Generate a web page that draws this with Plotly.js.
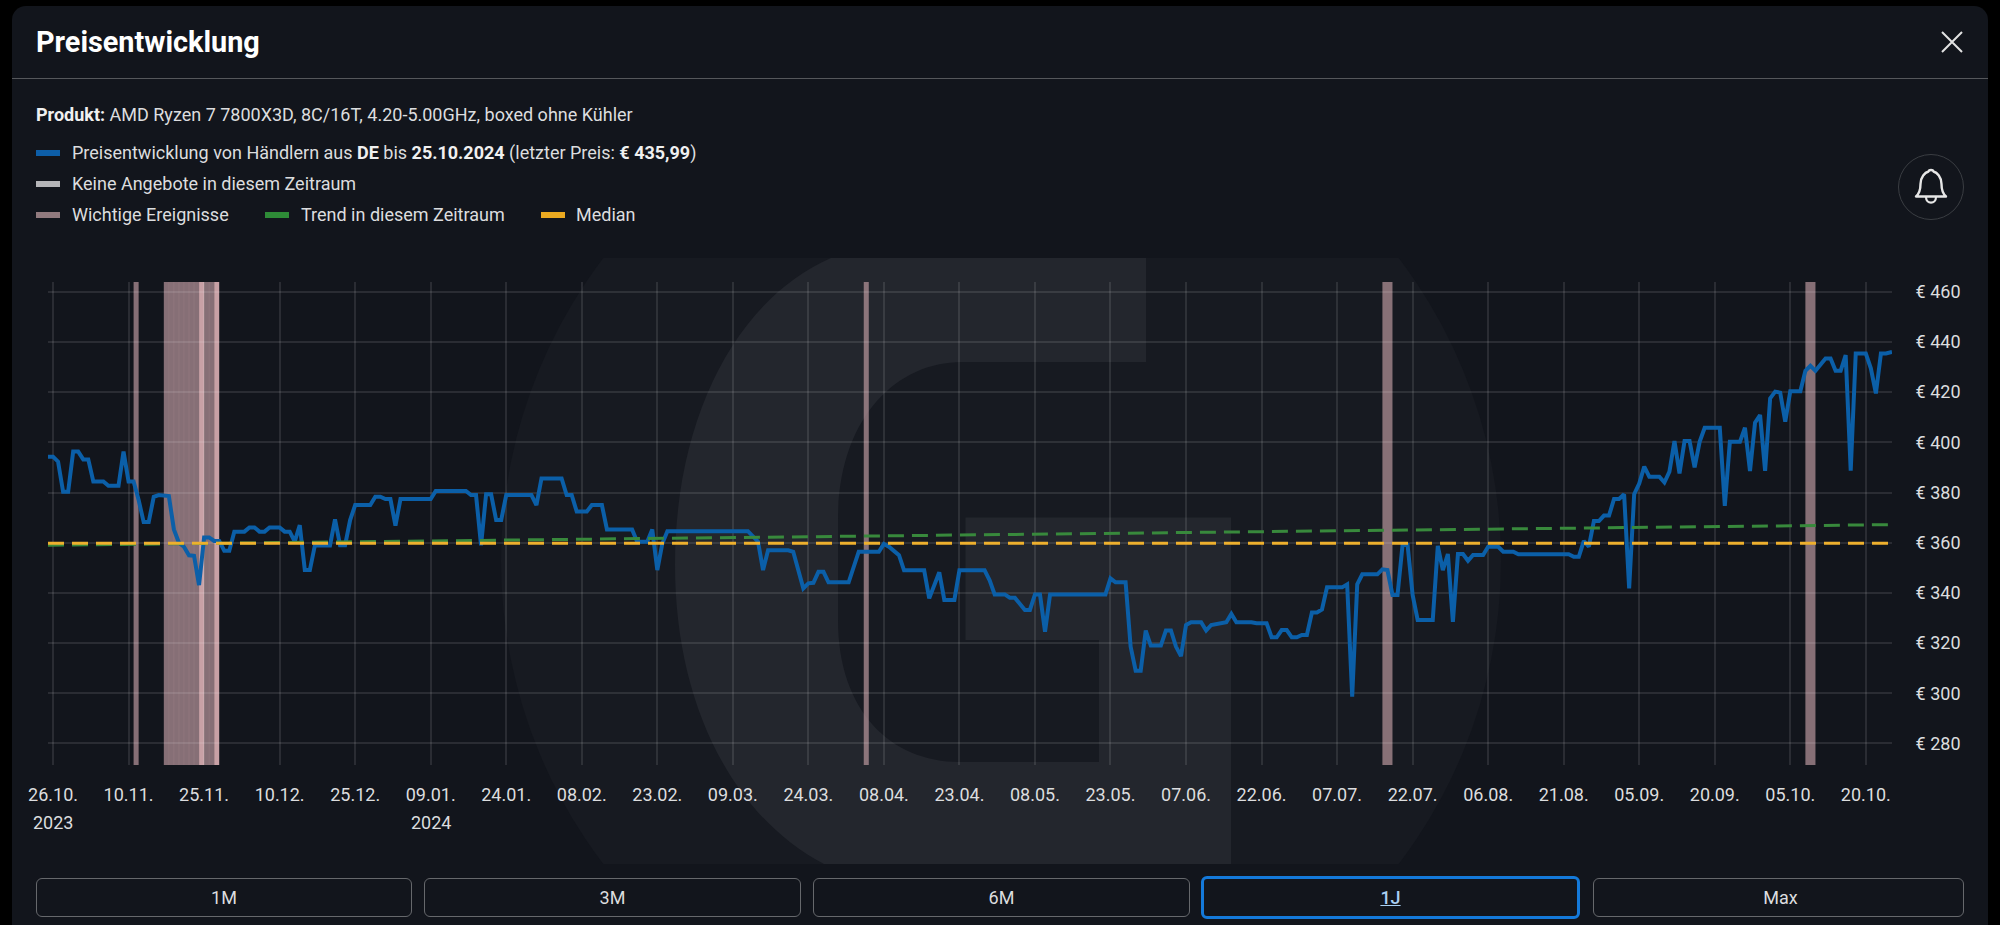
<!DOCTYPE html>
<html lang="de">
<head>
<meta charset="utf-8">
<title>Preisentwicklung</title>
<script src="https://cdn.plot.ly/plotly-3.0.1.min.js"></script>
<style>
html,body{margin:0;padding:0;width:2000px;height:925px;background:#000;overflow:hidden;font-family:Roboto,sans-serif;color:#dcdddf}
#panel{position:absolute;left:12px;top:6px;width:1976px;height:919px;background:#12151c;border-radius:14px 14px 0 0}
#wm{position:absolute;left:0;top:0}
#chart{position:absolute;left:0;top:0;width:2000px;height:925px}
.t{position:absolute;white-space:nowrap;font-size:18px;line-height:24px}
.t b{font-weight:700;color:#f0f0f0}
.sw{position:absolute;width:24px;height:6px}
.divider{position:absolute;left:12px;top:78px;width:1976px;height:1px;background:#55575b}
.btn{position:absolute;top:878px;height:37px;border:1px solid #66686c;border-radius:6px;text-align:center;line-height:37px;font-size:18px;color:#dcdddf}
.btn.on{top:876px;height:37px;border:3px solid #1479d9;color:#a9cff2;font-weight:500;text-decoration:underline}
</style>
</head>
<body>
<div id="panel"></div>
<svg id="wm" width="2000" height="925" viewBox="0 0 2000 925">
  <defs><clipPath id="wmc"><rect x="0" y="258" width="2000" height="606"/></clipPath></defs>
  <g clip-path="url(#wmc)">
    <circle cx="1001" cy="561" r="500" fill="#171a21"/>
    <path fill="#23262d" d="M831,258 L1146,258 L1146,362 L962,362 C895,362 838,420 838,520 L838,620 C838,710 890,762 960,762 L1099,762 L1099,640 L965.5,640 L965.5,517.6 L1231,517.6 L1231,864 L824,864 C730,815 675,700 675,565 C675,420 735,300 831,258 Z"/>
  </g>
</svg>
<div id="chart"></div>

<div class="t" style="left:36px;top:24px;font-size:28.8px;line-height:36px;font-weight:700;color:#fff">Preisentwicklung</div>
<svg style="position:absolute;left:1940px;top:30px" width="24" height="24"><path d="M2 2 L22 22 M22 2 L2 22" stroke="#e2e2e2" stroke-width="2" fill="none"/></svg>
<div class="divider"></div>
<div class="t" style="left:36px;top:103px"><b>Produkt:</b> AMD Ryzen 7 7800X3D, 8C/16T, 4.20-5.00GHz, boxed ohne Kühler</div>
<div class="sw" style="left:36px;top:150px;background:#0d5ea8"></div>
<div class="t" style="left:72px;top:141px">Preisentwicklung von Händlern aus <b>DE</b> bis <b>25.10.2024</b> (letzter Preis: <b>€ 435,99</b>)</div>
<div class="sw" style="left:36px;top:181px;background:#b5b5b8"></div>
<div class="t" style="left:72px;top:172px">Keine Angebote in diesem Zeitraum</div>
<div class="sw" style="left:36px;top:212px;background:#917a7e"></div>
<div class="t" style="left:72px;top:203px">Wichtige Ereignisse</div>
<div class="sw" style="left:265px;top:212px;background:#2e8b37"></div>
<div class="t" style="left:301px;top:203px">Trend in diesem Zeitraum</div>
<div class="sw" style="left:541px;top:212px;background:#eaa920"></div>
<div class="t" style="left:576px;top:203px">Median</div>
<svg style="position:absolute;left:1897px;top:153px" width="68" height="68" viewBox="0 0 68 68">
  <circle cx="34" cy="34" r="32.5" fill="none" stroke="#3a3d42" stroke-width="1"/>
  <path d="M19 43.5 L49 43.5 C45 40 44.5 36 44.5 31 C44.5 24 40 19.5 36.5 18.5 C36 16.5 32 16.5 31.5 18.5 C28 19.5 23.5 24 23.5 31 C23.5 36 23 40 19 43.5 Z" fill="none" stroke="#e6e6e6" stroke-width="2.4" stroke-linejoin="round"/>
  <path d="M29 44 C29 51.5 39 51.5 39 44" fill="none" stroke="#e6e6e6" stroke-width="2.2"/>
</svg>
<div class="btn" style="left:36px;width:374px">1M</div>
<div class="btn" style="left:424px;width:375px">3M</div>
<div class="btn" style="left:813px;width:375px">6M</div>
<div class="btn on" style="left:1201px;width:373px">1J</div>
<div class="btn" style="left:1593px;width:369px"><span style="padding-left:4px">Max</span></div>

<script>
// Price history: day offset from 26.10.2023 and price in euro
const priceDays = [-1,0,1,2,3,4,5,6,7,8,10,11,13,14,15,16,17,18,19,20,21,23,24,25,26,27,28,29,30,31,32,33,34,35,36,38,39,40,41,42,43,45,46,47,48,49,50,51,52,55,56,57,58,59,60,63,64,65,66,67,68,69,75,76,82,83,84,85,86,87,88,89,
90,95,96,97,101,102,103,104,106,107,109,110,115,116,118,119,120,121,122,138,140,141,142,146,147,148,149,150,151,152,153,154,158,160,164,165,166,168,169,173,174,176,177,179,180,185,186,187,188,
189,190,191,193,194,195,196,197,198,209,210,211,213,214,215,216,217,218,220,221,222,223,224,225,226,228,229,230,231,232,233,234,235,238,239,241,242,243,244,245,246,247,248,249,250,251,252,253,256,257,258,259,260,263,264,265,266,267,268,269,270,271,274,275,276,277,278,279,280,281,282,284,285,287,
288,290,291,301,302,303,304,305,306,307,308,309,310,311,312,313,314,315,316,317,319,320,321,322,323,324,325,326,327,328,331,332,333,335,336,337,338,339,340,341,342,343,344,345,347,348,349,350,352,353,354,355,356,357,358,360,361,362,363,364,365.2];
const prices = [394.3,394.3,392.3,380.3,380.3,396.3,396.3,393.2,393.2,384.4,384.4,382.7,382.7,396.3,384.4,384.4,377,368.2,368.2,378.3,379,378.6,365.3,360,358.4,355,354.8,343.1,362.1,362.1,360.7,360.7,356.8,356.8,364.4,364.4,366.1,366.1,364.4,364.4,366.1,366.1,364.4,364.4,360.4,367,349.1,349.1,358.9,358.9,369.3,359,359,369,375,375,378.3,378.3,377.4,377.4,366.8,377.4,377.4,380.6,380.6,379,379,359,379.3,379.3,369,369,
379,379,375,385.6,385.6,379,379,372.4,372.4,375,375,365.3,365.3,360.4,360.4,365.3,349.1,359.7,364.6,364.6,360.4,349.1,357,357,356.4,349,341.8,343.8,344,348.4,348.4,344.2,344.2,356.4,356.4,359.5,358.4,355,349,349,337.8,348.2,337.2,337.2,349,349,345,339.4,339.4,
339.4,338.1,338.1,333.2,333.2,339.4,339.4,324.5,339.4,339.4,345.8,344.2,344.2,318.6,309,309,325,319,319,325,325,318.6,314.8,327.2,328.3,328.3,325,327.2,327.6,328.3,328.3,331.6,328.3,328.3,327.9,327.9,322.3,322.3,325.2,325.2,322.3,322.3,323.2,323.2,332.2,332.2,333.4,342.2,342.2,343.4,298.6,343.4,347.4,347.4,349.4,349.1,339.2,339.2,359.1,359.1,339.2,329.2,329.2,358.7,349.1,355.5,328.5,355.5,355.5,352.8,355.1,355.1,358.4,358.4,
356.4,356.4,355.4,355.4,354.4,354.4,360.7,358.4,368.6,368.6,370.8,370.8,377.4,377.4,379.3,341.8,379.3,383.6,390.3,386.3,386.3,384,388.3,400.5,387.6,400.5,400.5,390,400.2,405.8,405.8,374.7,400.2,400.2,405.8,388.6,407.8,410.9,388.6,417.5,420.2,419.8,408.2,420.4,420.4,428.5,430.5,428.5,433.4,433.4,428.5,428.5,434.8,388.7,435.4,435.4,429.5,419.5,435.4,435.4,435.99];
const trendDays = [-1,365.2];
const trendValues = [359,367.2];
const medianDays = [-1,365.2];
const medianValues = [359.75,359.75];
// Event bands as [start,end] day offsets
const eventStarts = [16,22,30,161,264,348];
const eventEnds   = [17,29,32,162,266,350];
const brightStarts = [29,32];
const brightEnds   = [30,33];
const eventDaySeams = [23,24,25,26,27,28,31];
const tickDays = [0,15,30,45,60,75,90,105,120,135,150,165,180,195,210,225,240,255,270,285,300,315,330,345,360];
const tickLabels = ['26.10.','10.11.','25.11.','10.12.','25.12.','09.01.','24.01.','08.02.','23.02.','09.03.','24.03.','08.04.','23.04.','08.05.','23.05.','07.06.','22.06.','07.07.','22.07.','06.08.','21.08.','05.09.','20.09.','05.10.','20.10.'];
const yearDays = [0,75];
const yearLabels = ['2023','2024'];
const priceTicks = [280,300,320,340,360,380,400,420,440,460];

const toDate = d => new Date(Date.UTC(2023,9,26) + d*86400000).toISOString();
const GRID = 'rgba(255,255,255,0.1)';

const band = (a,b,color) => ({type:'rect',xref:'x',yref:'paper',x0:toDate(a),x1:toDate(b),y0:0,y1:1,fillcolor:color,line:{width:0},layer:'below'});

Plotly.newPlot('chart',[
  {x:priceDays.map(toDate),y:prices,type:'scatter',mode:'lines',name:'Preisentwicklung',line:{color:'#0b5fa8',width:4},hoverinfo:'skip'},
  {x:trendDays.map(toDate),y:trendValues,type:'scatter',mode:'lines',name:'Trend',line:{color:'#38893c',width:3,dash:'16px,8px'},hoverinfo:'skip'},
  {x:medianDays.map(toDate),y:medianValues,type:'scatter',mode:'lines',name:'Median',line:{color:'#eeb02e',width:3,dash:'16px,8px'},hoverinfo:'skip'}
],{
  width:2000,height:925,autosize:false,
  margin:{l:48,r:108,t:282,b:160,pad:0},
  paper_bgcolor:'rgba(0,0,0,0)',plot_bgcolor:'rgba(0,0,0,0)',
  showlegend:false,
  font:{family:'Roboto, sans-serif',size:18,color:'#dcdddf'},
  xaxis:{type:'date',range:[toDate(-1),toDate(365.2)],tickmode:'array',tickvals:tickDays.map(toDate),ticktext:tickLabels,
    showgrid:true,gridcolor:GRID,gridwidth:2,zeroline:false,showline:false,ticks:'outside',ticklen:13,tickcolor:'rgba(0,0,0,0)',tickangle:0,tickfont:{size:18,color:'#dcdddf'}},
  yaxis:{side:'right',range:[271.4,463.9],tickmode:'array',tickvals:priceTicks,ticktext:priceTicks.map(v=>'€ '+v),ticklabelshift:1.5,
    showgrid:true,gridcolor:GRID,gridwidth:2,zeroline:false,showline:false,ticks:'outside',ticklen:19,tickcolor:'rgba(0,0,0,0)',tickfont:{size:18,color:'#dcdddf'}},
  shapes:[
    ...eventStarts.map((s,i)=>band(s,eventEnds[i],'rgba(190,155,160,0.68)')),
    ...brightStarts.map((s,i)=>band(s,brightEnds[i],'rgba(214,172,176,0.93)')),
    ...eventDaySeams.map(d=>band(d-0.1,d+0.1,'rgba(214,172,176,0.12)'))
  ],
  annotations:yearDays.map((d,i)=>({x:toDate(d),xref:'x',yref:'paper',y:-0.12,yanchor:'middle',xanchor:'center',text:yearLabels[i],showarrow:false,font:{size:18,color:'#dcdddf'}}))
},{displayModeBar:false,staticPlot:true});
</script>
</body>
</html>
